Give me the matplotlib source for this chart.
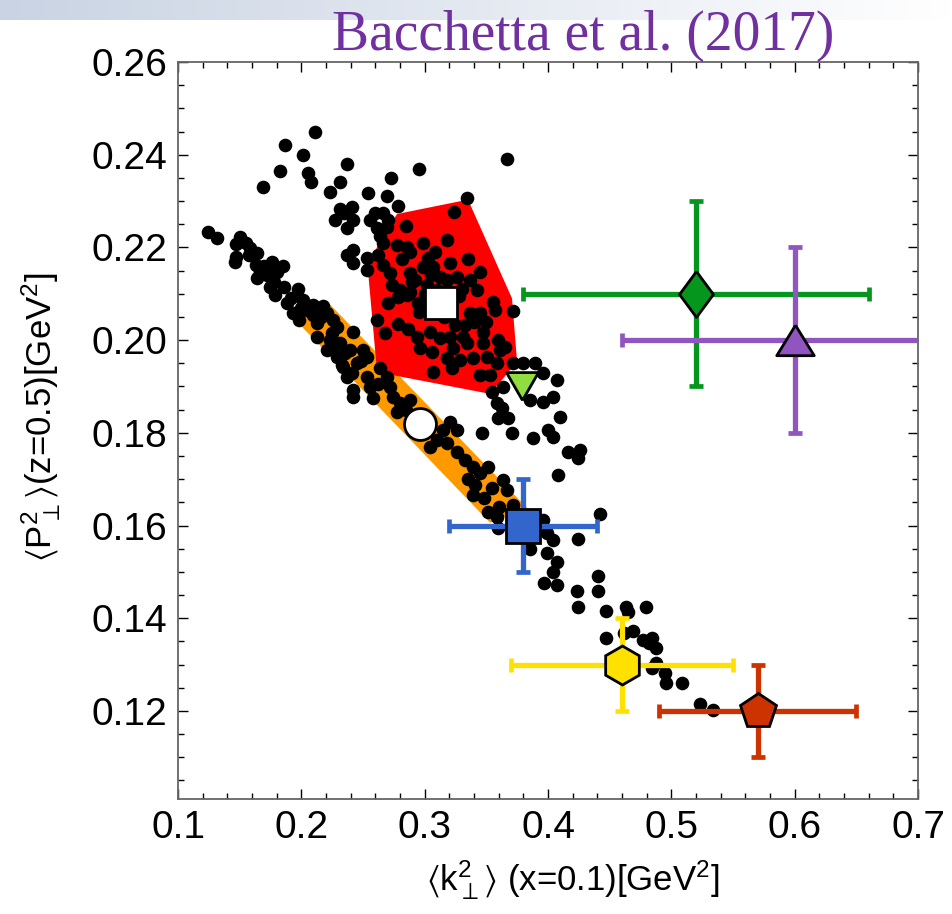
import numpy as np
import matplotlib
matplotlib.use('Agg')
import matplotlib.pyplot as plt
from matplotlib.patches import Polygon
from matplotlib.ticker import MultipleLocator, FormatStrFormatter
from matplotlib.colors import LinearSegmentedColormap

plt.rcParams['font.family'] = ['Liberation Sans', 'DejaVu Sans']
plt.rcParams['mathtext.fontset'] = 'custom'
plt.rcParams['mathtext.rm'] = 'Liberation Sans'
plt.rcParams['mathtext.it'] = 'Liberation Sans:italic'
plt.rcParams['mathtext.fallback'] = 'stixsans'

# replica points, upper branch (through the red region)
upper_x = [0.211, 0.187, 0.201, 0.183, 0.2055, 0.208, 0.169, 0.237, 0.231, 0.223,
           0.295, 0.273, 0.254, 0.2696, 0.2786, 0.2412, 0.2315, 0.2347, 0.2274, 0.242,
           0.2372, 0.260, 0.2664, 0.2705, 0.2615, 0.2696, 0.2851, 0.242, 0.2372, 0.242,
           0.2534, 0.2534, 0.367, 0.3346, 0.324, 0.2664, 0.2778, 0.2859, 0.2989, 0.3183,
           0.2883, 0.2623, 0.2664, 0.2721, 0.2883, 0.2989, 0.307, 0.3127, 0.2737, 0.2802,
           0.2883, 0.2786, 0.2948, 0.2615, 0.268, 0.2867, 0.3046, 0.3208, 0.3451, 0.2859,
           0.3183, 0.3265, 0.337, 0.3427, 0.337, 0.3451, 0.3557, 0.3573, 0.3719, 0.294,
           0.3127, 0.3208, 0.3313, 0.3476, 0.2964, 0.3062, 0.3232, 0.3346, 0.3476, 0.3597,
           0.3614, 0.3183, 0.3289, 0.3395, 0.3508, 0.3589, 0.3224, 0.307, 0.3451, 0.3533,
           0.3638, 0.3549, 0.3719, 0.380, 0.3898, 0.3963, 0.4076, 0.3857, 0.3963, 0.4044,
           0.4101, 0.3589, 0.363, 0.3597, 0.3679, 0.3711, 0.3882, 0.4003, 0.4044, 0.4166,
           0.3468, 0.4247, 0.4263, 0.4084, 0.3021, 0.3102, 0.3248, 0.333, 0.3127, 0.2924,
           0.3029, 0.2560, 0.2640, 0.2820, 0.2900, 0.3000, 0.3080, 0.3160, 0.3280, 0.3400,
           0.2950, 0.3050, 0.2700, 0.2780, 0.3350, 0.3500, 0.3650, 0.3300]
upper_y = [0.245, 0.242, 0.240, 0.2365, 0.236, 0.234, 0.233, 0.238, 0.234, 0.232,
           0.237, 0.235, 0.2317, 0.231, 0.2289, 0.2287, 0.2283, 0.2274, 0.2259, 0.2259,
           0.2242, 0.2274, 0.2274, 0.2259, 0.2242, 0.2244, 0.2246, 0.2194, 0.2184, 0.2166,
           0.2177, 0.2151, 0.2391, 0.2307, 0.2276, 0.221, 0.2205, 0.2201, 0.221, 0.2216,
           0.219, 0.2184, 0.2162, 0.2145, 0.2145, 0.2158, 0.2158, 0.2136, 0.2119, 0.2108,
           0.2104, 0.2093, 0.208, 0.2044, 0.2016, 0.2024, 0.2018, 0.2166, 0.2147, 0.2097,
           0.213, 0.2136, 0.213, 0.2108, 0.2059, 0.2059, 0.2082, 0.2065, 0.2063, 0.2007,
           0.2005, 0.2007, 0.2007, 0.2018, 0.1983, 0.1974, 0.1983, 0.1994, 0.1994, 0.200,
           0.1979, 0.1962, 0.1957, 0.1962, 0.1964, 0.1951, 0.194, 0.1931, 0.1925, 0.1925,
           0.1899, 0.1888, 0.1951, 0.1951, 0.1951, 0.1929, 0.1914, 0.1871, 0.1867, 0.1877,
           0.1834, 0.1864, 0.1854, 0.1832, 0.1832, 0.180, 0.1789, 0.1806, 0.1791, 0.1759,
           0.180, 0.1746, 0.1763, 0.1709, 0.2119, 0.2108, 0.2033, 0.2033, 0.2087, 0.213,
           0.2177, 0.2260, 0.2225, 0.2175, 0.2125, 0.2100, 0.2190, 0.2050, 0.2095, 0.2040,
           0.2060, 0.2140, 0.2080, 0.2035, 0.2175, 0.2040, 0.1985, 0.2110]

# replica points, lower branch (along the orange band and down to the right)
lower_x = [0.1244, 0.1317, 0.1503, 0.1471, 0.1471, 0.1463, 0.1584, 0.1641, 0.1576, 0.1633,
           0.1763, 0.1852, 0.1666, 0.1731, 0.1804, 0.1641, 0.1722, 0.1747, 0.186, 0.1787,
           0.1974, 0.1885, 0.2015, 0.2096, 0.2177, 0.1934, 0.2047, 0.1982, 0.2096, 0.2209,
           0.2128, 0.2258, 0.2291, 0.242, 0.2128, 0.2234, 0.2315, 0.2209, 0.2291, 0.2396,
           0.2502, 0.2339, 0.2453, 0.2534, 0.2372, 0.2534, 0.264, 0.2696, 0.2558, 0.2721,
           0.242, 0.242, 0.2583, 0.2745, 0.2802, 0.2883, 0.2778, 0.3208, 0.3265, 0.3151,
           0.3102, 0.3046, 0.3183, 0.3265, 0.333, 0.3395, 0.3516, 0.3451, 0.3411, 0.3395,
           0.3549, 0.3638, 0.367, 0.3719, 0.3516, 0.3589, 0.3597, 0.3963, 0.3995, 0.4044,
           0.4247, 0.4425, 0.3995, 0.4076, 0.4044, 0.3971, 0.4076, 0.4409, 0.4409, 0.4231,
           0.4247, 0.4474, 0.4636, 0.4645, 0.4791, 0.4685, 0.462, 0.4474, 0.4774, 0.4847,
           0.4872, 0.4815, 0.4872, 0.4847, 0.4945, 0.4953, 0.5083, 0.5229, 0.5335, 0.2258,
           0.2356, 0.2331, 0.2412, 0.1550, 0.1700, 0.1780, 0.1920, 0.2000, 0.2160, 0.2250,
           0.2480, 0.2620, 0.2850, 0.3350, 0.3480, 0.3600, 0.3780, 0.3850]
lower_y = [0.2233, 0.222, 0.2223, 0.2207, 0.2179, 0.2169, 0.2199, 0.2188, 0.2184, 0.2162,
           0.2169, 0.216, 0.2147, 0.2151, 0.2147, 0.2134, 0.2141, 0.2115, 0.2115, 0.2097,
           0.211, 0.208, 0.2087, 0.2076, 0.2074, 0.2059, 0.2065, 0.2044, 0.2054, 0.2059,
           0.2037, 0.2044, 0.2028, 0.2018, 0.2007, 0.200, 0.1994, 0.1979, 0.1964, 0.1979,
           0.1979, 0.1942, 0.1951, 0.1964, 0.1921, 0.1921, 0.194, 0.1921, 0.1899, 0.1899,
           0.1893, 0.1877, 0.1875, 0.1877, 0.1864, 0.1871, 0.1845, 0.1824, 0.1806, 0.1806,
           0.1785, 0.177, 0.1778, 0.1759, 0.1741, 0.1726, 0.1726, 0.1713, 0.1688, 0.1666,
           0.1681, 0.1698, 0.1677, 0.1644, 0.1629, 0.1619, 0.1595, 0.1612, 0.1584, 0.1569,
           0.1571, 0.1625, 0.1541, 0.1522, 0.150, 0.1476, 0.1472, 0.1491, 0.1459, 0.1459,
           0.1424, 0.1416, 0.1424, 0.1414, 0.1424, 0.1373, 0.1368, 0.1358, 0.1353, 0.1358,
           0.1336, 0.1347, 0.1304, 0.1293, 0.1282, 0.1261, 0.1261, 0.1215, 0.1202, 0.1985,
           0.1972, 0.1946, 0.1929, 0.2210, 0.2160, 0.2125, 0.2090, 0.2070, 0.2050, 0.2015,
           0.1955, 0.1905, 0.1850, 0.1700, 0.1660, 0.1640, 0.1575, 0.1550]

# red 68% region and orange band
red_x = [0.2776, 0.3351, 0.3708, 0.3749, 0.3530, 0.2614, 0.2541, 0.2622]
red_y = [0.2272, 0.2303, 0.2090, 0.1953, 0.1884, 0.1931, 0.2148, 0.2207]
band_x = [0.1949, 0.2232, 0.3830, 0.3530]
band_y = [0.2044, 0.2077, 0.1638, 0.1606]

# measurements with errors
meas_x = [0.52, 0.60, 0.38, 0.46, 0.57]
meas_y = [0.21, 0.20, 0.16, 0.13, 0.12]
meas_xerr = [0.14, 0.14, 0.06, 0.09, 0.08]
meas_yerr = [0.02, 0.02, 0.01, 0.01, 0.01]
meas_colors = ['#05961e', '#9055bf', '#3366cc', '#ffe100', '#cc3300']

# best-fit points without error bars
sq_x, sq_y = 0.313, 0.208
circ_x, circ_y = 0.296, 0.182
tri_x, tri_y = 0.379, 0.190

fig = plt.figure(figsize=(9.53, 9.14), dpi=100)

# light slide band on the top
bg = fig.add_axes([0, 1 - 20 / 914, 1, 20 / 914])
cmap_bg = LinearSegmentedColormap.from_list('bg', ['#c9d3e3', '#ffffff'])
bg.imshow(np.linspace(0, 1, 256)[None, :], aspect='auto', cmap=cmap_bg)
bg.axis('off')

ax = fig.add_axes([0.1868, 0.1258, 0.7765, 0.8064])

ax.add_patch(Polygon(np.column_stack([band_x, band_y]), closed=True,
                     facecolor='#ff9900', edgecolor='none', zorder=1))
ax.add_patch(Polygon(np.column_stack([red_x, red_y]), closed=True,
                     facecolor='#ff0000', edgecolor='none', zorder=1))

ax.plot(upper_x, upper_y, 'o', color='black', ms=9.8, mew=0, zorder=2)
ax.plot(lower_x, lower_y, 'o', color='black', ms=9.8, mew=0, zorder=2)

diamond = [(0, 1), (0.74, 0), (0, -1), (-0.74, 0), (0, 1)]
tri_up = [(0, 0.81), (1, -0.81), (-1, -0.81), (0, 0.81)]
tri_down = [(0, -0.87), (1, 0.87), (-1, 0.87), (0, -0.87)]
meas_markers = [diamond, tri_up, 's', 'h', 'p']
meas_sizes = [33, 27, 24, 28, 26.5]

for i in range(len(meas_x)):
    ax.errorbar(meas_x[i], meas_y[i], xerr=meas_xerr[i], yerr=meas_yerr[i],
                fmt='none', ecolor=meas_colors[i], elinewidth=3.8,
                capsize=4.8, capthick=3.4, zorder=3 + i * 0.1, clip_on=True)
for i in range(len(meas_x)):
    ax.plot(meas_x[i], meas_y[i], marker=meas_markers[i], ms=meas_sizes[i],
            mfc=meas_colors[i], mec='black', mew=2, ls='none', zorder=5)

ax.plot(sq_x, sq_y, marker='s', ms=23, mfc='white', mec='black', mew=2, zorder=5)
ax.plot(circ_x, circ_y, marker='o', ms=23, mfc='white', mec='black', mew=2, zorder=5)
ax.plot(tri_x, tri_y, marker=tri_down, ms=23, mfc='#90dd40', mec='black', mew=2, zorder=5)

ax.set_xlim(0.1, 0.7)
ax.set_ylim(0.101, 0.26)
ax.xaxis.set_major_locator(MultipleLocator(0.1))
ax.xaxis.set_minor_locator(MultipleLocator(0.02))
ax.yaxis.set_major_locator(MultipleLocator(0.02))
ax.yaxis.set_minor_locator(MultipleLocator(0.005))
ax.xaxis.set_major_formatter(FormatStrFormatter('%.1f'))
ax.yaxis.set_major_formatter(FormatStrFormatter('%.2f'))
ax.tick_params(which='both', direction='in', top=True, right=True, labelsize=28,
               color='black', width=1)
ax.tick_params(which='major', length=7, pad=8)
ax.tick_params(which='minor', length=4.5)
for s in ax.spines.values():
    s.set_color('#666666')
    s.set_linewidth(1.3)

fig.text(573 / 953, 1 - 880 / 914,
         r'$\langle \mathrm{k}_{\perp}^{2}\rangle$ (x=0.1)[GeV$^{2}$]',
         ha='center', va='center', fontsize=25)
fig.text(41 / 953, 1 - 417 / 914,
         r'$\langle \mathrm{P}_{\perp}^{2}\rangle$(z=0.5)[GeV$^{2}$]',
         ha='center', va='center', rotation=90, fontsize=25)
fig.text(583 / 953, 1 - 36 / 914, 'Bacchetta et al. (2017)', ha='center',
         va='center', fontsize=40, color='#7030a0', family='Liberation Serif')

fig.savefig('out.png', dpi=100)
